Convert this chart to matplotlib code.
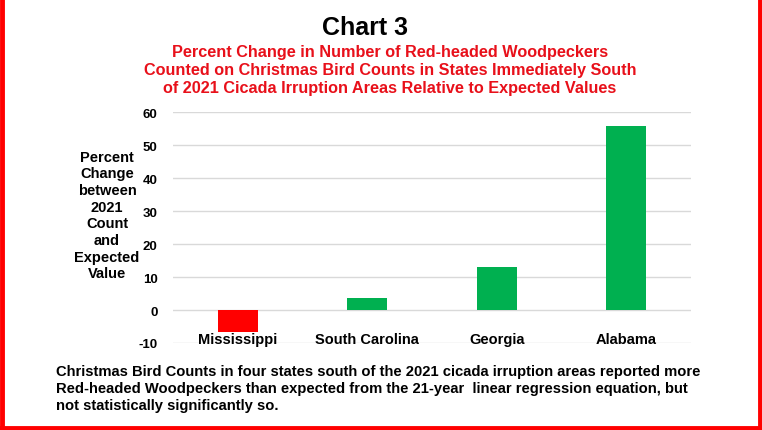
import matplotlib.pyplot as plt
from matplotlib.lines import Line2D

plt.rcParams["font.family"] = ["Liberation Sans", "DejaVu Sans"]
plt.rcParams["font.weight"] = "bold"

states = ["Mississippi", "South Carolina", "Georgia", "Alabama"]
pct_change = [-6.7, 3.8, 13.2, 55.9]
bar_colors = ["#FF0000", "#00B050", "#00B050", "#00B050"]
y_ticks = [-10, 0, 10, 20, 30, 40, 50, 60]

title = "Chart 3"
subtitle = ("Percent Change in Number of Red-headed Woodpeckers\n"
            "Counted on Christmas Bird Counts in States Immediately South\n"
            "of 2021 Cicada Irruption Areas Relative to Expected Values")
y_label = "Percent\nChange\nbetween\n2021\nCount\nand\nExpected\nValue"
note = ("Christmas Bird Counts in four states south of the 2021 cicada irruption areas reported more\n"
        "Red-headed Woodpeckers than expected from the 21-year  linear regression equation, but\n"
        "not statistically significantly so.")

W, H = 762, 431
fig = plt.figure(figsize=(W / 100, H / 100), dpi=100)
ax = fig.add_axes([173 / W, 1 - 344 / H, 518 / W, (344 - 113.3) / H])

x = list(range(len(states)))
ax.bar(x, pct_change, width=0.31, color=bar_colors, zorder=3)

ax.set_xlim(-0.5, len(states) - 0.5)
ax.set_ylim(-10, 60)
ax.set_yticks(y_ticks)
ax.set_yticklabels([str(v) for v in y_ticks], fontsize=9.5, fontweight="bold")
ax.tick_params(axis="y", length=0, pad=11)
ax.set_xticks([])
ax.grid(axis="y", color="#d9d9d9", linewidth=1, zorder=0)
for side in ["top", "right", "left", "bottom"]:
    ax.spines[side].set_visible(False)

for i, name in enumerate(states):
    ax.text(i, -8.8, name, ha="center", va="center", fontsize=10.5,
            fontweight="bold", zorder=4)

fig.text(107 / W, 1 - 216 / H, y_label, ha="center", va="center",
         fontsize=10.5, fontweight="bold", linespacing=1.24)

fig.text(365 / W, 1 - 28 / H, title, ha="center", va="center",
         fontsize=18, fontweight="bold")
fig.text(390 / W, 1 - 71 / H, subtitle, ha="center", va="center",
         fontsize=11.7, fontweight="bold", color="#E8101A", linespacing=1.25)

fig.text(56 / W, 1 - 389 / H, note, ha="left", va="center",
         fontsize=10.6, fontweight="bold", linespacing=1.3)

# red frame (left, right, bottom)
red = "#FF0000"
fig.add_artist(Line2D([2 / W, 2 / W], [0, 1], color=red, linewidth=3.5,
                      transform=fig.transFigure))
fig.add_artist(Line2D([1 - 2 / W, 1 - 2 / W], [0, 1], color=red, linewidth=3.5,
                      transform=fig.transFigure))
fig.add_artist(Line2D([0, 1], [2 / H, 2 / H], color=red, linewidth=3.5,
                      transform=fig.transFigure))

fig.savefig("out.png", dpi=100)
